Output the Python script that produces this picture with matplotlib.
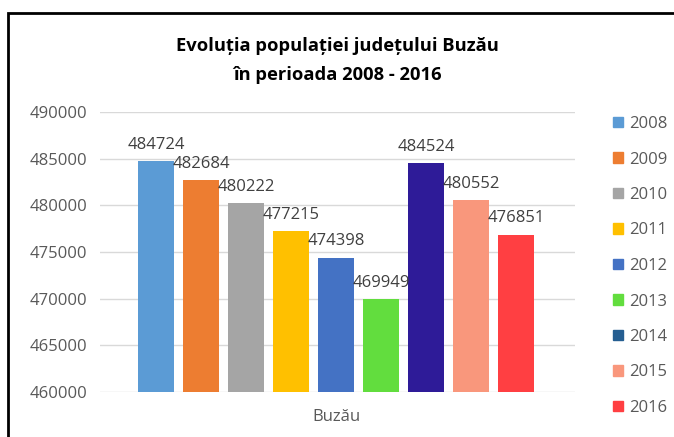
import matplotlib.pyplot as plt
from matplotlib.patches import Patch, Rectangle

plt.rcParams['font.family'] = ['Open Sans', 'DejaVu Sans']

years = ['2008', '2009', '2010', '2011', '2012', '2013', '2014', '2015', '2016']
population = [484724, 482684, 480222, 477215, 474398, 469949, 484524, 480552, 476851]
bar_colors = ['#5B9BD5', '#ED7D31', '#A5A5A5', '#FFC000', '#4472C4',
              '#62DD3E', '#2E1B98', '#F9977C', '#FF3F42']
legend_colors = ['#5B9BD5', '#ED7D31', '#A5A5A5', '#FFC000', '#4472C4',
                 '#62DD3E', '#255E91', '#F9977C', '#FF3F42']
category = 'Buzău'

fig = plt.figure(figsize=(6.74, 4.37), dpi=100)
ax = fig.add_axes([100 / 674, 1 - 392 / 437, 475 / 674, 280 / 437])

pos = list(range(len(years)))
ax.bar(pos, population, width=0.8, color=bar_colors, zorder=2)
for x, v in zip(pos, population):
    ax.annotate(str(v), (x, v), xytext=(0, 6), textcoords='offset points',
                ha='center', va='bottom', fontsize=12, color='#404040')

ax.set_xlim(-1.24, 9.3)
ax.set_ylim(460000, 490000)
ax.set_yticks(range(460000, 490001, 5000))
ax.set_xticks([4])
ax.set_xticklabels([category])
ax.tick_params(length=0, labelsize=12, colors='#595959')
ax.tick_params(axis='y', pad=9)
ax.tick_params(axis='x', pad=12)
ax.grid(axis='y', color='#D9D9D9', linewidth=1, zorder=0)
for s in ax.spines.values():
    s.set_visible(False)

fig.text(337 / 674, 1 - 46 / 437, 'Evoluția populației județului Buzău',
         ha='center', va='center', fontsize=13.2, fontweight='bold')
fig.text(337 / 674, 1 - 75 / 437, 'în perioada 2008 - 2016',
         ha='center', va='center', fontsize=13.2, fontweight='bold')

handles = [Patch(color=c) for c in legend_colors]
fig.legend(handles, years, loc='upper left', bbox_to_anchor=(598 / 674, 1 - 101 / 437),
           frameon=False, fontsize=12, labelcolor='#595959',
           handlelength=0.6, handleheight=0.6, handletextpad=0.35, labelspacing=1.17)

fig.add_artist(Rectangle((8 / 674, -0.05), 1.1, 1.05 - 13 / 437, transform=fig.transFigure,
                         fill=False, edgecolor='black', linewidth=2))

fig.savefig('out.png', dpi=100)
